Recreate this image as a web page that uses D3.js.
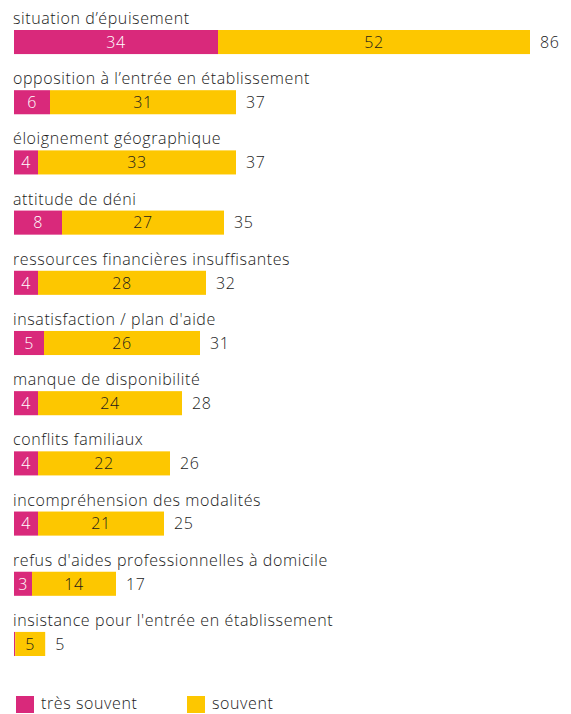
<!DOCTYPE html>
<html lang="fr">
<head>
  <meta charset="UTF-8">
  <title>Motifs</title>
  <style>
    body { margin: 0; background: #fff; }
    svg { display: block; font-family: 'Open Sans', 'Lato', sans-serif; font-weight: 300; letter-spacing: 0.6px; }
  </style>
</head>
<body>
  <svg id="chart" width="571" height="714"></svg>
  <script src="https://d3js.org/d3.v7.min.js"></script>
  <script>
    // data
    const categories = [
      "situation d’épuisement",
      "opposition à l’entrée en établissement",
      "éloignement géographique",
      "attitude de déni",
      "ressources financières insuffisantes",
      "insatisfaction / plan d'aide",
      "manque de disponibilité",
      "conflits familiaux",
      "incompréhension des modalités",
      "refus d'aides professionnelles à domicile",
      "insistance pour l'entrée en établissement"
    ];
    const tresSouvent = [34, 6, 4, 8, 4, 5, 4, 4, 4, 3, 0.2];
    const souvent = [52, 31, 33, 27, 28, 26, 24, 22, 21, 14, 5];
    const totals = [86, 37, 37, 35, 32, 31, 28, 26, 25, 17, 5];
    const seriesNames = ["très souvent", "souvent"];
    const colors = ["#d9297b", "#fdc700"];

    const svg = d3.select('#chart');
    const x = d3.scaleLinear().domain([0, 86]).range([14, 530]);
    const y = d3.scaleBand().domain(categories).range([30, 656]).paddingInner(0.6).paddingOuter(0);
    const fs = 16;

    const rows = categories.map((c, i) => ({
      cat: c, a: tresSouvent[i], b: souvent[i], total: totals[i]
    }));

    const g = svg.selectAll('g.row').data(rows).enter().append('g').attr('class', 'row');

    // category label above bar
    g.append('text')
      .attr('x', 13)
      .attr('y', d => y(d.cat) - 6)
      .attr('font-size', fs)
      .attr('fill', '#1a1a1a')
      .text(d => d.cat);

    g.append('rect')
      .attr('x', x(0))
      .attr('y', d => y(d.cat))
      .attr('width', d => x(d.a) - x(0))
      .attr('height', y.bandwidth())
      .attr('fill', colors[0]);

    g.append('rect')
      .attr('x', d => x(d.a))
      .attr('y', d => y(d.cat))
      .attr('width', d => x(d.a + d.b) - x(d.a))
      .attr('height', y.bandwidth())
      .attr('fill', colors[1]);

    g.filter(d => d.a >= 1).append('text')
      .attr('x', d => (x(0) + x(d.a)) / 2)
      .attr('y', d => y(d.cat) + y.bandwidth() / 2)
      .attr('dy', '0.36em')
      .attr('text-anchor', 'middle')
      .attr('font-size', fs)
      .attr('fill', '#fff')
      .text(d => d.a);

    g.append('text')
      .attr('x', d => (x(d.a) + x(d.a + d.b)) / 2)
      .attr('y', d => y(d.cat) + y.bandwidth() / 2)
      .attr('dy', '0.36em')
      .attr('text-anchor', 'middle')
      .attr('font-size', fs)
      .attr('fill', '#1a1a1a')
      .text(d => d.b);

    g.append('text')
      .attr('x', d => x(d.a + d.b) + 10)
      .attr('y', d => y(d.cat) + y.bandwidth() / 2)
      .attr('dy', '0.36em')
      .attr('font-size', fs)
      .attr('fill', '#1a1a1a')
      .text(d => d.total);

    // legend
    const legX = [16, 187];
    const lg = svg.selectAll('g.leg').data(seriesNames).enter().append('g').attr('class', 'leg')
      .attr('transform', (d, i) => `translate(${legX[i]},696)`);
    lg.append('rect').attr('width', 18).attr('height', 17).attr('fill', (d, i) => colors[i]);
    lg.append('text').attr('x', 25).attr('y', 13)
      .attr('font-size', fs).attr('fill', '#1a1a1a').text(d => d);
  </script>
</body>
</html>
